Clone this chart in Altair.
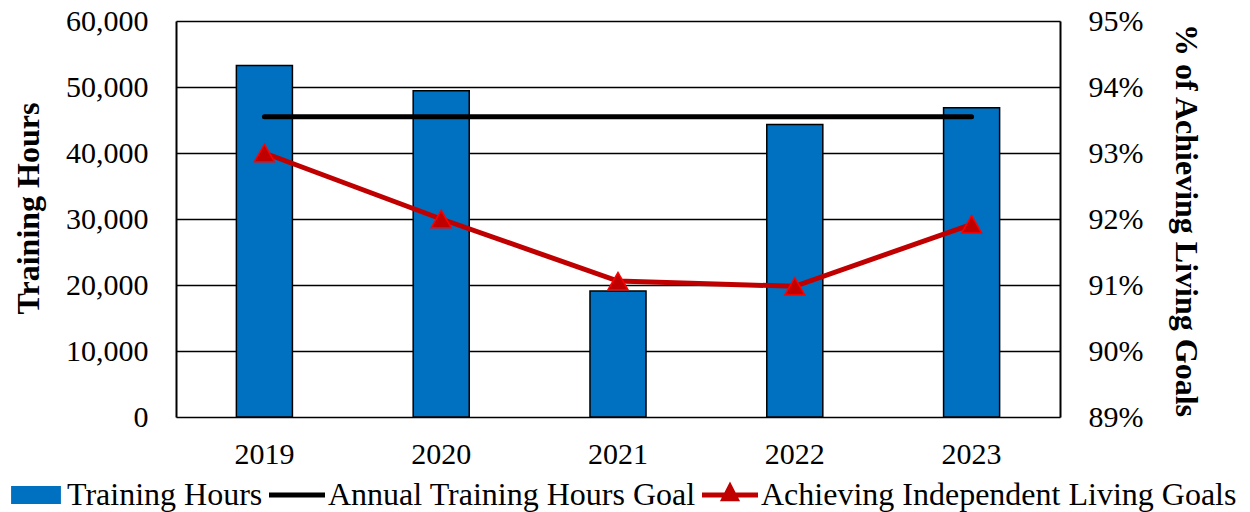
import altair as alt
import pandas as pd

# ---- data ----
years = ["2019", "2020", "2021", "2022", "2023"]
training_hours = [53250, 49450, 19100, 44300, 46850]
goal_hours = [45500, 45500, 45500, 45500, 45500]
pct_achieving = [0.930, 0.920, 0.9106, 0.9098, 0.9192]

series_names = ["Training Hours", "Annual Training Hours Goal", "Achieving Independent Living Goals"]
series_colors = ["#0070C0", "#000000", "#C00000"]
# legend symbol shapes (unit paths): bar rectangle, plain line, line with triangle
series_shapes = [
    "M-0.89,-0.32H0.89V0.32H-0.89Z",
    "M-1,-0.09H1V0.09H-1Z",
    "M-1,-0.09H1V0.09H-1Z M0,-0.48L0.36,0.22H-0.36Z",
]

left_ticks = [0, 10000, 20000, 30000, 40000, 50000, 60000]
right_ticks = [0.89, 0.90, 0.91, 0.92, 0.93, 0.94, 0.95]

df = pd.DataFrame({"year": years, "hours": training_hours, "goal": goal_hours, "pct": pct_achieving})
leg_df = pd.DataFrame({"series": series_names, "year": years[:3], "pct": pct_achieving[:3]})

FONT = "Liberation Serif, 'Times New Roman', Times, 'DejaVu Serif', serif"
FS = 30
TFS = 32
LFS = 32

x_axis = alt.Axis(title=None, labelAngle=0, ticks=False, domain=False, labelPadding=22,
                  labelFont=FONT, labelFontSize=FS, labelColor="black", labelFontWeight="normal")
x_scale = alt.Scale(paddingInner=0.683, paddingOuter=0.3415)


def x_enc():
    return alt.X("year:N", scale=x_scale, axis=x_axis)


hours_axis = alt.Axis(
    values=left_ticks, format=",.0f", title="Training Hours", ticks=False,
    domain=True, domainColor="black", domainWidth=2,
    labelPadding=28, labelFont=FONT, labelFontSize=FS, labelColor="black", labelFontWeight="normal",
    grid=True, gridColor="black", gridWidth=1.5, gridOpacity=1,
    titleFont=FONT, titleFontSize=TFS, titleFontWeight="bold", titleColor="black",
    titleX=-148, titleY=187, titleAngle=270, titleAlign="center", titleBaseline="middle",
)
hours_scale = alt.Scale(domain=[0, 60000], nice=False, zero=True)

pct_axis = alt.Axis(
    orient="right", values=right_ticks, format=".0%", title="% of Achieving Living Goals",
    ticks=False, domain=True, domainColor="black", domainWidth=2, grid=False, labelPadding=28,
    labelFont=FONT, labelFontSize=FS, labelColor="black", labelFontWeight="normal",
    titleFont=FONT, titleFontSize=TFS, titleFontWeight="bold", titleColor="black",
    titleX=125, titleY=199, titleAngle=90, titleAlign="center", titleBaseline="middle",
)
pct_scale = alt.Scale(domain=[0.89, 0.95], nice=False, zero=False)

bars = alt.Chart(df).mark_bar(color="#0070C0", stroke="black", strokeWidth=1.5).encode(
    x=x_enc(),
    y=alt.Y("hours:Q", scale=hours_scale, axis=hours_axis),
)

goal = alt.Chart(df).mark_line(color="black", strokeWidth=5, strokeCap="round").encode(
    x=x_enc(),
    y=alt.Y("goal:Q", scale=hours_scale, axis=hours_axis),
)

pct_line = alt.Chart(df).mark_line(color="#C00000", strokeWidth=5).encode(
    x=x_enc(),
    y=alt.Y("pct:Q", scale=pct_scale, axis=pct_axis),
)

pct_pts = alt.Chart(df).mark_point(
    shape="triangle-up", filled=True, size=400, fill="#C00000", stroke="#FF0000",
    strokeWidth=1.5, opacity=1,
).encode(
    x=x_enc(),
    y=alt.Y("pct:Q", scale=pct_scale, axis=pct_axis),
)

legend = alt.Legend(
    title=None, orient="none", legendX=-168, legendY=446, direction="horizontal",
    symbolSize=3136, symbolOpacity=1, symbolStrokeWidth=0,
    labelFont=FONT, labelFontSize=LFS, labelColor="black", labelLimit=800, labelFontWeight="normal",
    labelOffset=3, columnPadding=6,
)

legend_layer = alt.Chart(leg_df).mark_point(filled=True, opacity=1).encode(
    x=x_enc(),
    y=alt.Y("pct:Q", scale=pct_scale, axis=pct_axis),
    color=alt.Color("series:N", scale=alt.Scale(domain=series_names, range=series_colors), legend=legend),
    shape=alt.Shape("series:N", scale=alt.Scale(domain=series_names, range=series_shapes), legend=legend),
).transform_filter("false")

left = alt.layer(bars, goal)
right = alt.layer(pct_line, pct_pts, legend_layer)

chart = alt.layer(left, right).resolve_scale(y="independent").properties(
    width=884, height=396,
    padding={"left": 168, "top": 13, "right": 182, "bottom": 100},
    autosize="none",
).configure_view(
    stroke="black", strokeWidth=2
).configure_axis(
    labelFont=FONT, labelFontSize=FS, labelColor="black",
    titleFont=FONT, titleFontSize=TFS, titleColor="black",
).configure_legend(
    labelFont=FONT, labelFontSize=LFS, labelColor="black", labelLimit=800,
).configure(font=FONT)

chart.save("out.html", embed_options={"renderer": "svg", "actions": False})
